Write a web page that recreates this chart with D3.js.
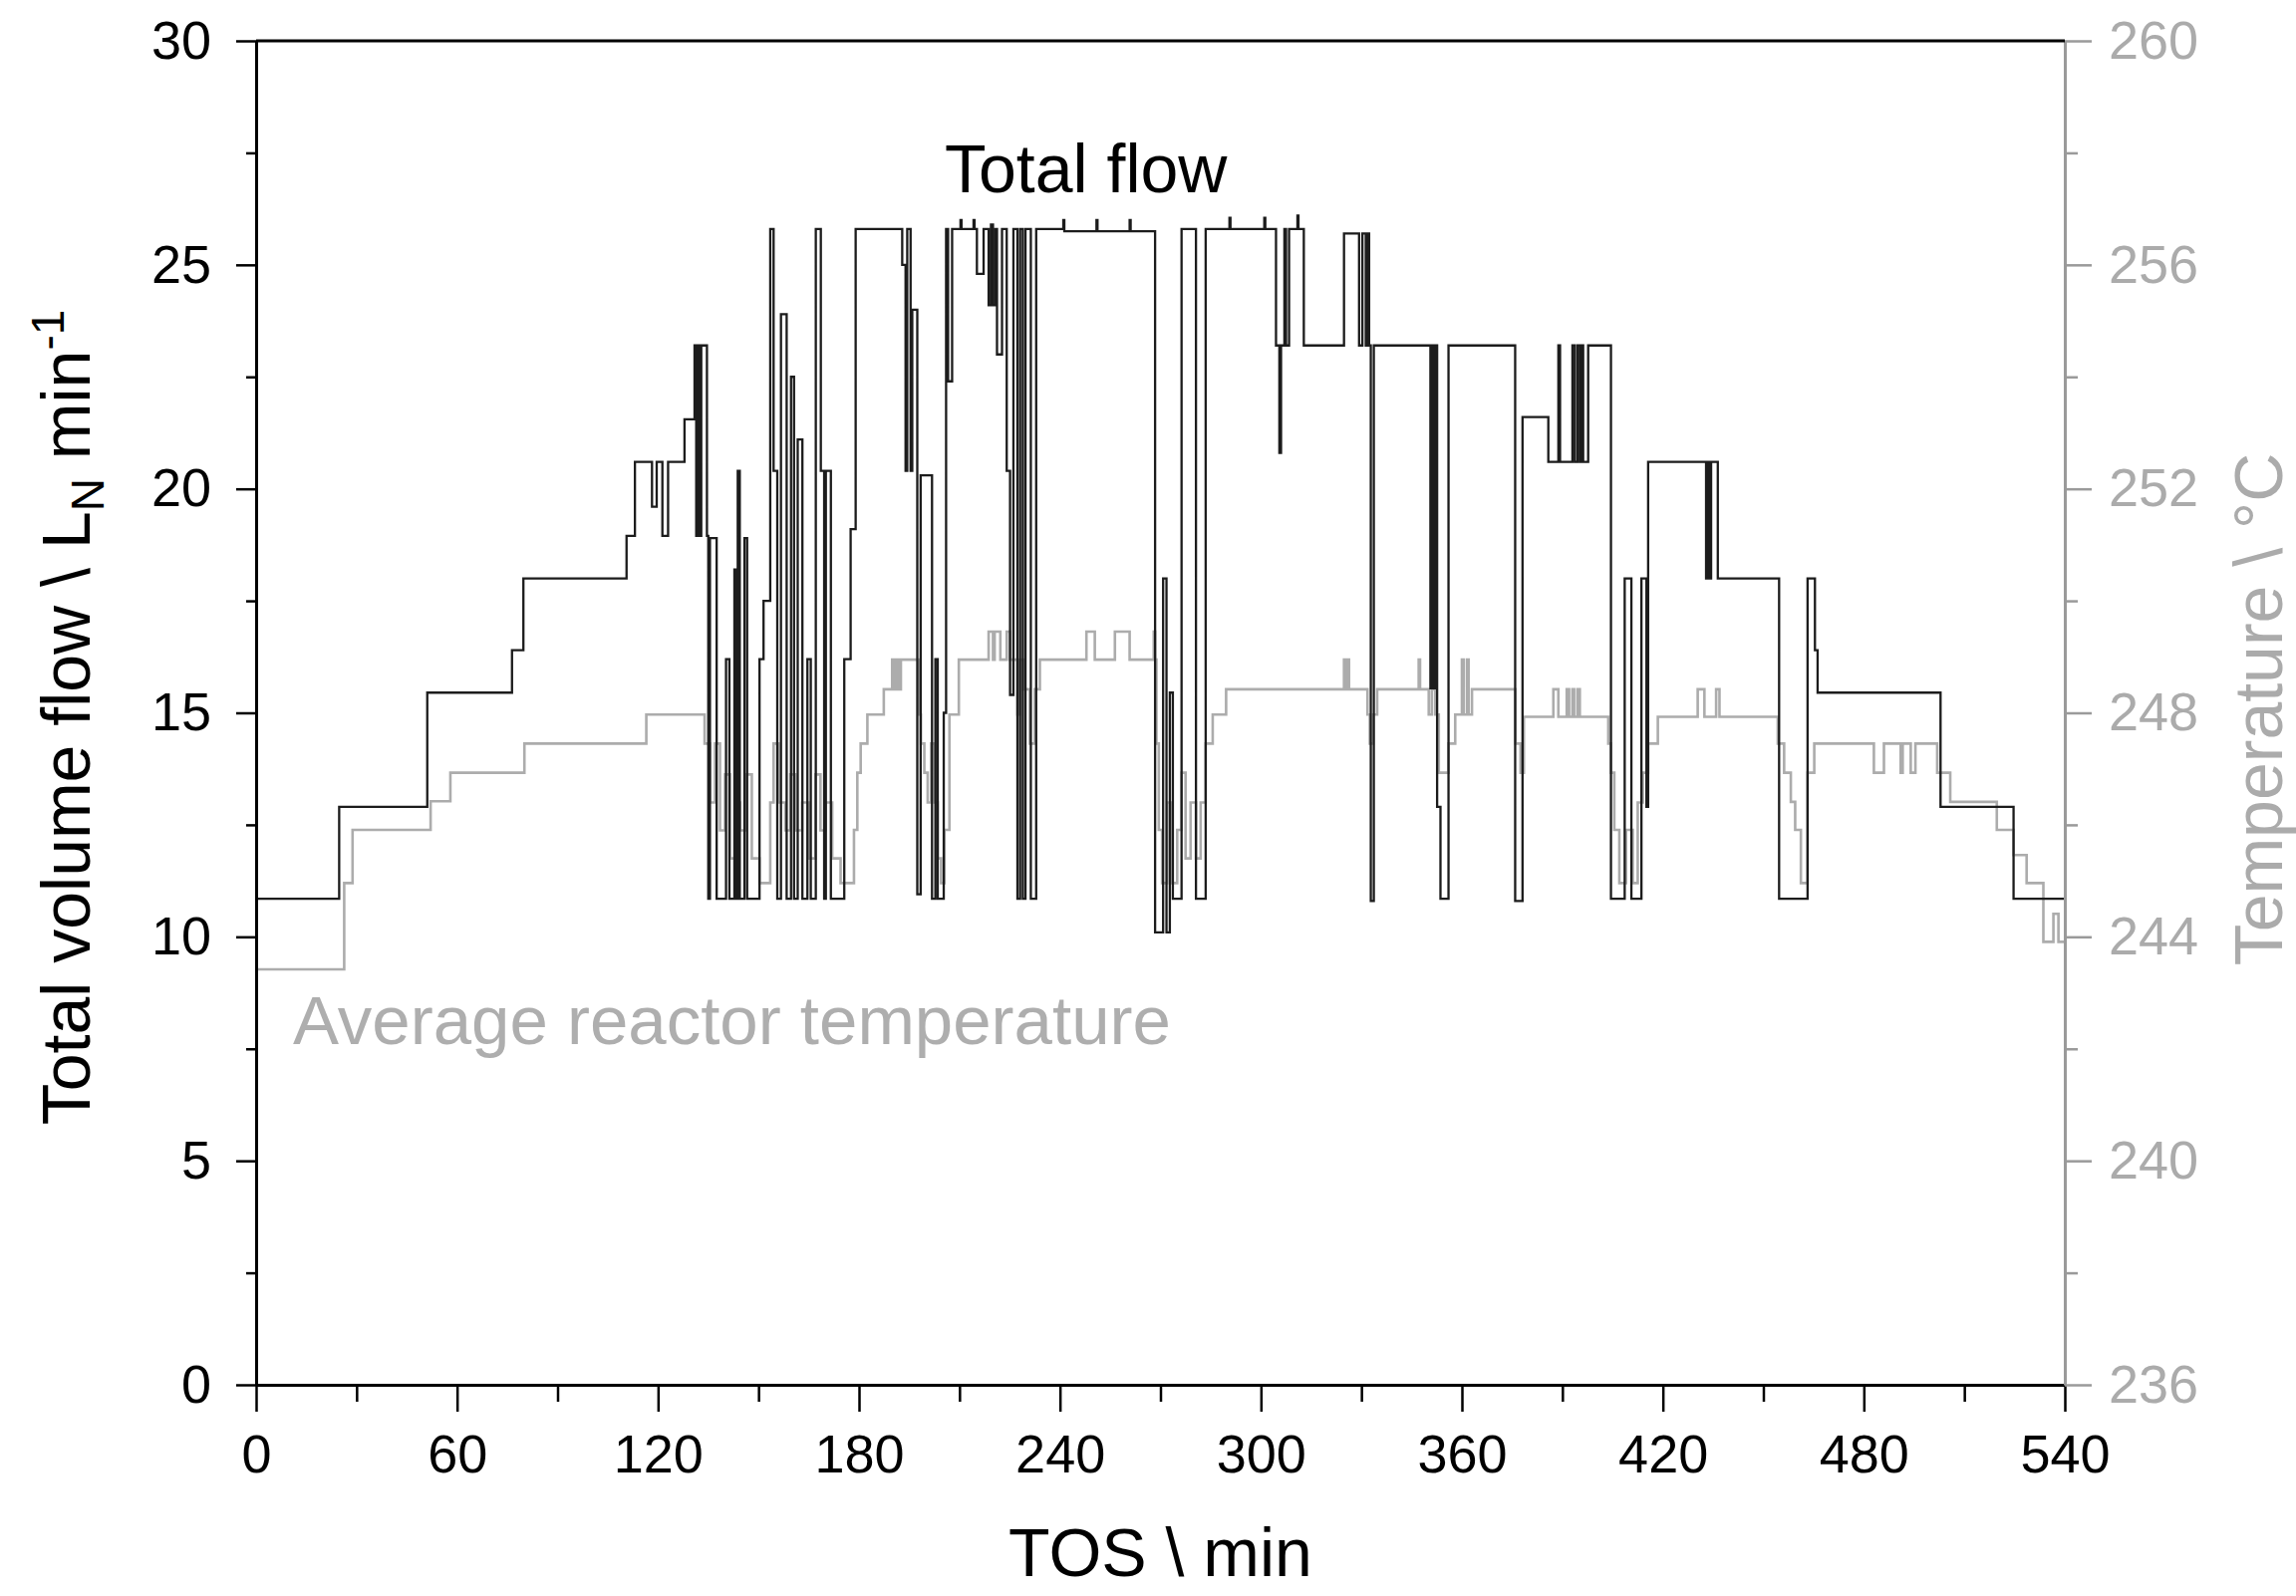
<!DOCTYPE html>
<html>
<head>
<meta charset="utf-8">
<script src="https://cdn.jsdelivr.net/npm/d3@7"></script>
<style>
body{margin:0;background:#fff}
svg text{font-family:"Liberation Sans",Arial,sans-serif}
</style>
</head>
<body>
<svg id="chart" width="2304" height="1602"></svg>
<script>
// step data: [TOS min, value] - value holds until the next point
var flowSteps = [
[0,10.85],[24.8,12.9],[51.1,15.45],[76.4,16.4],[79.8,18.0],
[110.6,18.95],[113.1,20.6],[118.2,19.6],[119.6,20.6],[121.3,18.95],[123.0,20.6],
[127.9,21.55],[130.9,23.2],[131.4,18.95],[131.9,23.2],[132.4,18.95],[132.9,23.2],
[134.6,18.95],[135.0,10.85],[135.5,18.9],[137.5,10.85],
[140.3,16.2],[141.3,10.85],[142.8,18.2],[143.3,10.85],[143.8,20.4],[144.4,10.85],
[145.8,18.9],[146.6,10.85],
[150.3,16.2],[151.5,17.5],[153.5,25.8],[154.5,20.4],[155.6,10.85],[156.7,23.9],[158.4,10.85],
[159.7,22.5],[160.6,10.85],[161.7,21.1],[163.1,10.85],[164.6,16.2],[165.6,10.85],
[167.1,25.8],[168.6,20.4],[169.6,10.85],[170.1,20.4],[171.6,10.85],
[175.6,16.2],[177.5,19.1],[179.0,25.8],
[192.9,25.0],[193.9,20.4],[194.4,25.8],[195.4,20.4],[195.9,24.0],[197.4,10.95],[198.4,20.3],[201.8,10.85],
[202.8,16.2],[203.5,10.85],[205.3,15.0],[206.0,25.8],[206.6,22.4],[207.8,25.8],
[210.3,26.0],[210.6,25.8],[214.2,26.0],[214.5,25.8],
[215.2,24.8],[217.2,25.8],[218.7,24.1],[219.4,25.9],[220.0,24.1],[220.7,25.8],
[221.2,23.0],[222.7,25.8],[224.1,20.4],[225.1,15.4],[226.1,25.8],
[227.3,10.85],[228.1,25.8],[228.9,10.85],[229.7,25.8],[231.3,10.85],[232.9,25.8],
[241.0,26.0],[241.3,25.75],[250.9,26.0],[251.2,25.75],[260.8,26.0],[261.1,25.75],
[268.4,10.1],[270.8,18.0],[271.8,10.1],[272.8,15.45],[273.7,10.85],
[276.3,25.8],[280.6,10.85],[283.5,25.8],
[290.6,26.05],[290.9,25.8],[301.0,26.05],[301.3,25.8],
[304.5,23.2],[305.5,20.8],[306.0,23.2],[307.0,25.8],[307.5,23.2],[308.4,25.8],[310.9,26.1],[311.2,25.8],
[312.8,23.2],
[324.8,25.7],[329.3,23.2],[330.3,25.7],[331.3,23.2],[331.8,25.7],[332.3,23.2],[332.8,10.8],[333.7,23.2],
[350.6,15.55],[351.1,23.2],[351.6,15.55],[352.1,23.2],[352.6,12.9],[353.6,10.85],[356.0,23.2],
[375.9,10.8],[378.1,21.6],[385.8,20.6],[388.8,23.2],[389.3,20.6],[393.0,23.2],[393.7,20.6],[394.5,23.2],
[395.2,20.6],[395.7,23.2],[396.2,20.6],[397.7,23.2],
[404.5,10.85],[408.6,18.0],[410.6,10.85],[413.6,18.0],[415.1,12.9],[415.6,20.6],
[432.9,18.0],[433.4,20.6],[433.9,18.0],[434.4,20.6],[436.4,18.0],
[454.7,10.85],[463.2,18.0],[465.4,16.4],[466.2,15.45],[502.9,12.9],[524.7,10.85],[540,10.85]
];

var tempSteps = [
[0,243.42],[26.3,244.96],[28.8,245.91],[52.1,246.42],[58.0,246.93],[80.1,247.45],[116.5,247.97],
[133.9,247.45],[135.5,246.4],[137,247.45],[138.5,245.9],[140,246.9],[141.5,245.4],[143,246.4],
[144.5,245.9],[146,246.9],[148,245.4],[150.3,244.96],[153.5,246.4],[154.5,247.45],[156,246.4],
[158,245.9],[159.5,246.9],[161,245.9],[163,246.4],[165,245.4],[167,246.9],[168.5,245.9],
[170,246.4],[172,245.4],[174.5,244.96],
[178.5,245.91],[179.5,246.93],[180.5,247.45],[182.5,247.97],[187.4,248.42],[189.9,248.95],
[190.5,248.42],[191.2,248.95],[191.8,248.42],[192.5,248.95],
[197.9,247.97],[198.5,247.45],[199.5,246.93],[200.5,246.4],[201.5,247.45],[202.5,246.4],
[203.5,245.4],[204.5,244.96],[205.5,245.91],[207,247.97],[209.8,248.95],
[218.7,249.45],[220.0,248.95],[220.5,249.45],[222.2,248.95],[224.1,249.45],[225.1,248.95],
[227.3,247.97],[228,248.95],[229,248.42],[231,247.45],[232.5,248.42],[234,248.95],
[247.9,249.45],[250.4,248.95],[256.4,249.45],[260.8,248.95],[268.0,249.45],[268.4,248.95],
[268.8,247.45],[269.5,245.91],[270.5,244.96],[272,246.4],[273.5,244.96],[275,245.91],
[276.3,246.93],[277.5,245.4],[279,246.4],[280.6,245.4],[282,246.4],[283.5,247.45],
[285.6,247.97],[289.6,248.42],
[324.8,248.95],[325.3,248.42],[325.8,248.95],[326.3,248.42],
[331.8,247.97],[332.5,247.45],[333.5,247.97],[334.7,248.42],
[347.1,248.95],[347.5,248.42],
[350.1,247.97],[351,248.42],[352,247.97],[353.1,246.93],[356,247.45],[358,247.97],
[360,248.95],[360.5,247.97],[361.5,248.95],[362,247.97],[363,248.42],
[376,247.45],[377.5,246.93],[378.5,247.93],[387.3,248.42],[388.8,247.93],[391.3,248.42],
[392,247.93],[393,248.42],[393.5,247.93],[394.5,248.42],[395.2,247.93],
[403.7,247.45],[404.5,246.93],[405.5,245.91],[407,244.96],[409,245.91],[411,244.96],
[412.5,246.4],[414,246.93],[415.6,247.45],[418.5,247.93],
[430.4,248.42],[432.4,247.93],[435.9,248.42],[436.9,247.93],
[454.3,247.45],[456.2,246.93],[458.2,246.41],[459.5,245.91],[461.2,244.96],[463.2,246.93],[465.2,247.45],
[483,246.93],[486,247.45],[491,246.93],[491.6,247.45],[494,246.93],[495.4,247.45],
[501.9,246.93],[505.8,246.41],[519.7,245.91],[524.7,245.46],[528.6,244.96],[533.6,243.91],
[536.6,244.41],[538.1,243.91],[540,243.91]
];

var xMajor = [0,60,120,180,240,300,360,420,480,540];
var xMinor = [30,90,150,210,270,330,390,450,510];
var flowMajor = [0,5,10,15,20,25,30];
var flowMinor = [2.5,7.5,12.5,17.5,22.5,27.5];
var tempMajor = [236,240,244,248,252,256,260];
var tempMinor = [238,242,246,250,254,258];

var L = 257, R = 2072, T = 41, B = 1390;
var grayAxis = "#9a9a9a", grayText = "#ababab";

var svg = d3.select("#chart");
svg.append("rect").attr("width",2304).attr("height",1602).attr("fill","#fff");

var x = d3.scaleLinear().domain([0,540]).range([L,R]);
var yFlow = d3.scaleLinear().domain([0,30]).range([B,T]);
var yTemp = d3.scaleLinear().domain([236,260]).range([B,T]);

// lines
var tempLine = d3.line().curve(d3.curveStepAfter)
    .x(function(d){return x(d[0])}).y(function(d){return yTemp(d[1])});
var flowLine = d3.line().curve(d3.curveStepAfter)
    .x(function(d){return x(d[0])}).y(function(d){return yFlow(d[1])});

svg.append("path").datum(tempSteps).attr("d",tempLine)
    .attr("fill","none").attr("stroke","#acacac").attr("stroke-width",2.6);
svg.append("path").datum(flowSteps).attr("d",flowLine)
    .attr("fill","none").attr("stroke","#1c1c1c").attr("stroke-width",2.3);

function styleAxis(g, color, size){
    g.attr("font-family",null).attr("font-size",size);
    g.select(".domain").attr("stroke",color).attr("stroke-width",3);
    g.selectAll(".tick line").attr("stroke",color).attr("stroke-width",2.5);
    g.selectAll(".tick text").attr("fill",color===grayAxis ? grayText : "#000");
}

// bottom axis
var gxm = svg.append("g").attr("transform","translate(0,"+B+")")
    .call(d3.axisBottom(x).tickValues(xMinor).tickSize(17).tickSizeOuter(0).tickFormat(""));
gxm.select(".domain").remove();
gxm.selectAll(".tick line").attr("stroke","#000").attr("stroke-width",2.5);
var gx = svg.append("g").attr("transform","translate(0,"+B+")")
    .call(d3.axisBottom(x).tickValues(xMajor).tickSize(27).tickSizeOuter(0).tickPadding(23));
styleAxis(gx,"#000",54);

// right axis (temperature)
var grm = svg.append("g").attr("transform","translate("+R+",0)")
    .call(d3.axisRight(yTemp).tickValues(tempMinor).tickSize(13).tickSizeOuter(0).tickFormat(""));
grm.select(".domain").remove();
grm.selectAll(".tick line").attr("stroke",grayAxis).attr("stroke-width",2.5);
var gr = svg.append("g").attr("transform","translate("+R+",0)")
    .call(d3.axisRight(yTemp).tickValues(tempMajor).tickSize(27).tickSizeOuter(0).tickPadding(17));
styleAxis(gr,grayAxis,54);

// left axis (flow)
var glm = svg.append("g").attr("transform","translate("+L+",0)")
    .call(d3.axisLeft(yFlow).tickValues(flowMinor).tickSize(10).tickSizeOuter(0).tickFormat(""));
glm.select(".domain").remove();
glm.selectAll(".tick line").attr("stroke","#000").attr("stroke-width",2.5);
var gl = svg.append("g").attr("transform","translate("+L+",0)")
    .call(d3.axisLeft(yFlow).tickValues(flowMajor).tickSize(20).tickSizeOuter(0).tickPadding(25));
styleAxis(gl,"#000",54);

// top frame
svg.append("line").attr("x1",L).attr("x2",R).attr("y1",T).attr("y2",T)
    .attr("stroke","#000").attr("stroke-width",3);

// axis titles
svg.append("text").attr("x",(L+R)/2).attr("y",1582).attr("text-anchor","middle")
    .attr("font-size",68).text("TOS \\ min");

var yt = svg.append("text").attr("transform","translate(90,720) rotate(-90)")
    .attr("text-anchor","middle").attr("font-size",68);
yt.append("tspan").text("Total volume flow \\ L");
yt.append("tspan").attr("font-size",46).attr("dy",14).text("N");
yt.append("tspan").attr("dy",-14).text(" min");
yt.append("tspan").attr("font-size",46).attr("dy",-26).text("-1");

svg.append("text").attr("transform","translate(2290,712) rotate(-90)")
    .attr("text-anchor","middle").attr("font-size",68).attr("fill",grayText)
    .text("Temperature \\ \u00b0C");

// in-plot labels
svg.append("text").attr("x",948).attr("y",193).attr("font-size",68).attr("fill","#000")
    .text("Total flow");
svg.append("text").attr("x",294).attr("y",1048).attr("font-size",69).attr("fill","#aeaeae")
    .text("Average reactor temperature");
</script>
</body>
</html>
